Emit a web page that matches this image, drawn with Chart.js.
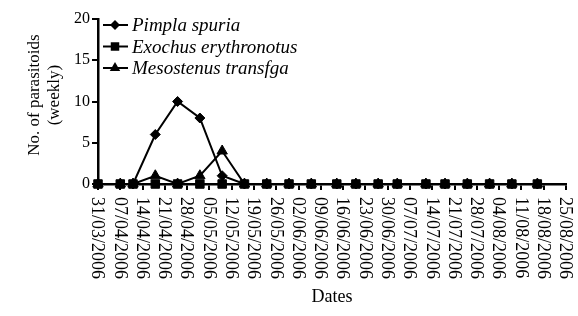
<!DOCTYPE html>
<html>
<head>
<meta charset="utf-8">
<script src="https://cdn.jsdelivr.net/npm/chart.js@4.4.1/dist/chart.umd.min.js"></script>
<style>
  html, body { margin: 0; padding: 0; background: #fff; }
  #wrap { width: 578px; height: 316px; }
</style>
</head>
<body>
<div id="wrap"><canvas id="myChart"></canvas></div>
<script>
// weekly tick labels on the x axis
const tickLabels = ['31/03/2006','07/04/2006','14/04/2006','21/04/2006','28/04/2006','05/05/2006',
  '12/05/2006','19/05/2006','26/05/2006','02/06/2006','09/06/2006','16/06/2006','23/06/2006',
  '30/06/2006','07/07/2006','14/07/2006','21/07/2006','28/07/2006','04/08/2006','11/08/2006',
  '18/08/2006','25/08/2006'];

// sampling dates
const sampleDates = ['31/03/2006','07/04/2006','11/04/2006','18/04/2006','25/04/2006','02/05/2006',
  '09/05/2006','16/05/2006','23/05/2006','30/05/2006','06/06/2006','14/06/2006','20/06/2006',
  '27/06/2006','03/07/2006','12/07/2006','18/07/2006','25/07/2006','01/08/2006','08/08/2006',
  '16/08/2006'];

const pimpla     = [0,0,0,6,10,8,1,0,0,0,0,0,0,0,0,0,0,0,0,0,0];
const exochus    = [0,0,0,0,0,0,0,0,0,0,0,0,0,0,0,0,0,0,0,0,0];
const mesostenus = [0,0,0,1,0,1,4,0,0,0,0,0,0,0,0,0,0,0,0,0,0];

const yTicks = [0, 5, 10, 15, 20];

const serif = '"Liberation Serif", "DejaVu Serif", serif';

function dayNum(s) {
    const p = s.split('/');
    return Date.UTC(+p[2], +p[1] - 1, +p[0]) / 86400000;
}
const day0 = dayNum(tickLabels[0]);
const toPts = vals => vals.map((v, i) => ({ x: dayNum(sampleDates[i]) - day0, y: v }));

const series = [
    { label: 'Pimpla spuria', data: pimpla, style: 'rectRot', radius: 5, order: 1 },
    { label: 'Exochus erythronotus', data: exochus, style: 'rect', radius: 6, order: 0 },
    { label: 'Mesostenus transfga', data: mesostenus, style: 'triangle', radius: 6, order: 2 }
];

// rotated (clockwise) date labels under the x axis
const dateLabels = {
    id: 'dateLabels',
    afterDraw(chart) {
        const ctx = chart.ctx;
        const xs = chart.scales.x;
        ctx.save();
        ctx.fillStyle = '#000';
        ctx.font = '18px ' + serif;
        ctx.textAlign = 'left';
        ctx.textBaseline = 'middle';
        tickLabels.forEach((lab, i) => {
            const px = xs.getPixelForValue(i * 7);
            ctx.save();
            ctx.translate(px - 1, xs.top + 13);
            ctx.rotate(Math.PI / 2);
            ctx.fillText(lab, 0, 0);
            ctx.restore();
        });
        ctx.restore();
    }
};

function marker(ctx, style, x, y, r) {
    ctx.beginPath();
    if (style === 'rect') {
        const s = r * Math.SQRT1_2;
        ctx.rect(x - s, y - s, 2 * s, 2 * s);
    } else if (style === 'rectRot') {
        ctx.moveTo(x, y - r); ctx.lineTo(x + r, y); ctx.lineTo(x, y + r); ctx.lineTo(x - r, y);
        ctx.closePath();
    } else {
        ctx.moveTo(x, y - r); ctx.lineTo(x + r * 0.87, y + r * 0.5);
        ctx.lineTo(x - r * 0.87, y + r * 0.5); ctx.closePath();
    }
    ctx.fill();
}

// legend with line + marker, drawn inside the plot
const lineLegend = {
    id: 'lineLegend',
    afterDraw(chart) {
        const ctx = chart.ctx;
        ctx.save();
        ctx.strokeStyle = '#000';
        ctx.fillStyle = '#000';
        ctx.lineWidth = 2;
        ctx.font = 'italic 19px ' + serif;
        ctx.textBaseline = 'middle';
        series.forEach((s, i) => {
            const y = 25 + i * 21.5;
            ctx.beginPath();
            ctx.moveTo(103, y); ctx.lineTo(128, y);
            ctx.stroke();
            marker(ctx, s.style, 115, y, s.radius);
            ctx.fillText(s.label, 132, y + 1);
        });
        ctx.restore();
    }
};

new Chart('myChart', {
    type: 'line',
    data: {
        datasets: series.map(s => ({
            label: s.label,
            data: toPts(s.data),
            order: s.order,
            borderColor: '#000',
            backgroundColor: '#000',
            borderWidth: 2,
            pointStyle: s.style,
            pointRadius: s.radius,
            pointBackgroundColor: '#000',
            pointBorderColor: '#000',
            pointBorderWidth: 1,
            tension: 0,
            clip: false
        }))
    },
    options: {
        responsive: true,
        maintainAspectRatio: false,
        animation: false,
        layout: { padding: { top: 19, right: 12, left: 0, bottom: 0 } },
        plugins: { legend: { display: false }, tooltip: { enabled: false } },
        scales: {
            x: {
                type: 'linear',
                min: 0,
                max: (tickLabels.length - 1) * 7,
                ticks: { display: false, stepSize: 7 },
                afterBuildTicks(scale) {
                    scale.ticks = tickLabels.map((t, i) => ({ value: i * 7 }));
                },
                afterFit(scale) { scale.height = 132; },
                grid: { drawOnChartArea: false, drawTicks: true, tickLength: 6, color: '#000', lineWidth: 2 },
                border: { display: true, color: '#000', width: 2.5 },
                title: {
                    display: true, text: 'Dates', color: '#000',
                    font: { family: serif, size: 18 }, padding: { top: 0, bottom: 8 }
                }
            },
            y: {
                min: 0,
                max: 20,
                afterBuildTicks(scale) {
                    scale.ticks = yTicks.map(v => ({ value: v }));
                },
                afterFit(scale) { scale.width = 98; },
                ticks: { color: '#000', font: { family: serif, size: 16 }, padding: 2 },
                grid: { drawOnChartArea: false, drawTicks: true, tickLength: 6, color: '#000', lineWidth: 2 },
                border: { display: true, color: '#000', width: 2.5 },
                title: {
                    display: true, text: ['   No. of parasitoids', '   (weekly)'], color: '#000',
                    font: { family: serif, size: 17, lineHeight: 20 / 17 }, padding: { top: 25, bottom: 0 }
                }
            }
        }
    },
    plugins: [dateLabels, lineLegend]
});
</script>
</body>
</html>
